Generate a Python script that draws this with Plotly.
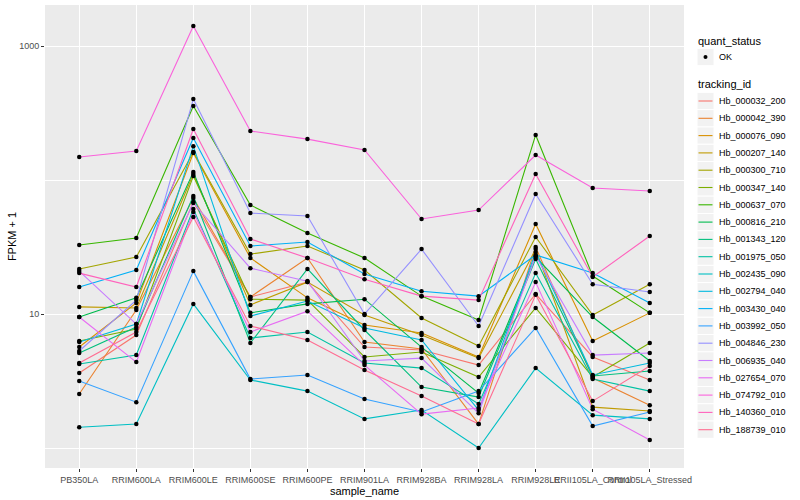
import plotly.graph_objects as go

samples = ["PB350LA", "RRIM600LA", "RRIM600LE", "RRIM600SE", "RRIM600PE", "RRIM901LA",
           "RRIM928BA", "RRIM928LA", "RRIM928LE", "RRII105LA_Control", "RRII105LA_Stressed"]

# FPKM + 1 per sample, one list per gene
hb_000032_200 = [3.63, 6.97, 68.5, 13.4, 17.3, 5.67, 5.39, 4.16, 14.1, 4.78, 3.22]
hb_000042_390 = [2.53, 10.7, 73.4, 13.4, 26.2, 6.18, 5.48, 1.51, 31.6, 3.33, 2.09]
hb_000076_090 = [5.67, 12.1, 159, 26.2, 13.2, 8.28, 7.21, 4.78, 47.0, 6.29, 10.2]
hb_000207_140 = [11.3, 11.1, 111, 11.7, 17.3, 9.83, 6.97, 4.69, 30.5, 2.02, 1.89]
hb_000300_710 = [21.7, 26.6, 162, 28.0, 32.2, 21.3, 9.34, 5.77, 37.6, 9.83, 16.7]
hb_000347_140 = [6.29, 7.73, 107, 12.9, 12.7, 4.78, 5.21, 3.39, 11.1, 3.39, 6.08]
hb_000637_070 = [32.7, 36.9, 357, 65.1, 40.2, 26.2, 13.6, 9.02, 217, 19.2, 10.2]
hb_000816_210 = [9.50, 13.2, 115, 10.2, 11.9, 12.9, 5.67, 2.57, 26.6, 9.50, 4.46]
hb_001343_120 = [5.12, 8.00, 76.0, 6.08, 21.7, 7.60, 2.85, 2.40, 25.7, 3.45, 3.76]
hb_001975_050 = [4.24, 4.94, 60.8, 6.62, 7.34, 4.31, 3.95, 2.13, 20.2, 3.27, 2.66]
hb_002435_090 = [1.43, 1.51, 11.9, 3.22, 2.66, 1.65, 1.92, 1.00, 3.95, 1.76, 1.65]
hb_002794_040 = [6.18, 8.42, 179, 9.66, 12.5, 7.87, 6.40, 1.92, 29.0, 3.51, 4.31]
hb_003430_040 = [15.9, 21.3, 206, 32.2, 34.5, 19.9, 14.8, 13.6, 27.6, 20.2, 12.1]
hb_003992_050 = [3.16, 2.20, 20.9, 3.27, 3.51, 2.32, 1.86, 2.66, 7.87, 1.46, 1.86]
hb_004846_230 = [5.30, 12.7, 402, 56.7, 53.9, 10.0, 30.5, 8.14, 78.6, 16.7, 14.6]
hb_006935_040 = [20.9, 8.42, 67.4, 22.0, 17.6, 4.46, 4.69, 1.82, 27.1, 4.94, 5.12]
hb_027654_070 = [9.50, 4.38, 57.7, 7.34, 10.5, 4.16, 1.79, 1.99, 17.3, 1.95, 1.15]
hb_074792_010 = [148.5, 164.5, 1410, 232, 202, 167.5, 51.2, 59.7, 153.6, 87.1, 82.8]
hb_140360_010 = [20.2, 15.9, 240, 36.3, 26.2, 18.2, 13.6, 12.7, 111, 18.9, 38.2]
hb_188739_010 = [4.31, 7.34, 53.0, 8.14, 6.40, 3.82, 2.44, 1.51, 13.9, 2.24, 4.09]

tracking_ids = ["Hb_000032_200", "Hb_000042_390", "Hb_000076_090", "Hb_000207_140",
                "Hb_000300_710", "Hb_000347_140", "Hb_000637_070", "Hb_000816_210",
                "Hb_001343_120", "Hb_001975_050", "Hb_002435_090", "Hb_002794_040",
                "Hb_003430_040", "Hb_003992_050", "Hb_004846_230", "Hb_006935_040",
                "Hb_027654_070", "Hb_074792_010", "Hb_140360_010", "Hb_188739_010"]
series_values = [hb_000032_200, hb_000042_390, hb_000076_090, hb_000207_140,
                 hb_000300_710, hb_000347_140, hb_000637_070, hb_000816_210,
                 hb_001343_120, hb_001975_050, hb_002435_090, hb_002794_040,
                 hb_003430_040, hb_003992_050, hb_004846_230, hb_006935_040,
                 hb_027654_070, hb_074792_010, hb_140360_010, hb_188739_010]
colors = ["#F8766D", "#EA8331", "#D89000", "#C09B00", "#A3A500", "#7CAE00", "#39B600",
          "#00BB4E", "#00BF7D", "#00C1A3", "#00BFC4", "#00BAE0", "#00B0F6", "#35A2FF",
          "#9590FF", "#C77CFF", "#E76BF3", "#FA62DB", "#FF62BC", "#FF6C91"]
quant_status = ["OK"]

y_ticks = [10, 1000]
y_minor = [1, 100]

FONT = "Liberation Sans, Arial, sans-serif"
W, H = 800, 500
ML, MR, MT, MB = 45, 116, 5, 32
PW, PH = W - ML - MR, H - MT - MB


def px_x(px):
    return (px - ML) / PW


def px_y(py):
    return (H - MB - py) / PH


fig = go.Figure()
for name, vals, col in zip(tracking_ids, series_values, colors):
    fig.add_trace(go.Scatter(
        x=samples, y=vals, mode="lines", name=name,
        line=dict(color=col, width=1.1), showlegend=False,
        hoverinfo="skip"))

all_x = [s for vals in series_values for s in samples]
all_y = [v for vals in series_values for v in vals]
fig.add_trace(go.Scatter(
    x=all_x, y=all_y, mode="markers", name="OK", showlegend=False,
    marker=dict(color="black", size=4.5)))

# ---- ggplot-style legends (built in paper coordinates) ----
shapes = []
annotations = []
LX_TEXT = 696
KEY_L, KEY_R = 697, 714
KEY_H = 17.3
LAB_X = 717


def key_box(cy):
    shapes.append(dict(type="rect", xref="paper", yref="paper",
                       x0=px_x(KEY_L), x1=px_x(KEY_R),
                       y0=px_y(cy + KEY_H / 2), y1=px_y(cy - KEY_H / 2),
                       fillcolor="#F2F2F2", line=dict(color="white", width=1), layer="below"))


def label(text, cx, cy, size=9):
    annotations.append(dict(text=text, xref="paper", yref="paper", x=px_x(cx), y=px_y(cy),
                            xanchor="left", yanchor="middle", showarrow=False,
                            font=dict(family=FONT, size=size, color="black")))


label("quant_status", LX_TEXT, 41, size=11)
for i, qs in enumerate(quant_status):
    cy = 57 + i * KEY_H
    key_box(cy)
    cx = (KEY_L + KEY_R) / 2
    shapes.append(dict(type="circle", xref="paper", yref="paper",
                       x0=px_x(cx - 2), x1=px_x(cx + 2), y0=px_y(cy + 2), y1=px_y(cy - 2),
                       fillcolor="black", line=dict(color="black", width=0)))
    label(qs, LAB_X, cy)

label("tracking_id", LX_TEXT, 84, size=11)
for i, (name, col) in enumerate(zip(tracking_ids, colors)):
    cy = 101 + i * KEY_H
    key_box(cy)
    shapes.append(dict(type="line", xref="paper", yref="paper",
                       x0=px_x(KEY_L + 1.5), x1=px_x(KEY_R - 1.5), y0=px_y(cy), y1=px_y(cy),
                       line=dict(color=col, width=1.1)))
    label(name, LAB_X, cy)

fig.update_layout(
    width=W, height=H,
    margin=dict(l=ML, r=MR, t=MT, b=MB, autoexpand=False),
    paper_bgcolor="white", plot_bgcolor="#EBEBEB",
    font=dict(family=FONT, size=9, color="#4D4D4D"),
    showlegend=False,
    shapes=shapes, annotations=annotations,
)

fig.update_xaxes(
    type="category", categoryorder="array", categoryarray=samples,
    range=[-0.6, len(samples) - 0.4],
    showgrid=True, gridcolor="white", gridwidth=1.1,
    ticks="outside", ticklen=3, tickcolor="#333333", tickwidth=1,
    tickangle=0, tickfont=dict(size=9, color="#4D4D4D"),
    zeroline=False, showline=False, automargin=False,
    title=dict(text="sample_name", font=dict(size=11, color="black"), standoff=0),
)
fig.update_yaxes(
    type="log", range=[-0.149, 3.306],
    tickvals=y_ticks, ticktext=[str(v) for v in y_ticks],
    showgrid=True, gridcolor="white", gridwidth=1.1,
    minor=dict(tickvals=y_minor, showgrid=True, gridcolor="white", gridwidth=0.5, ticks=""),
    ticks="outside", ticklen=3, tickcolor="#333333", tickwidth=1,
    tickfont=dict(size=9, color="#4D4D4D"),
    zeroline=False, showline=False, automargin=False,
    title=dict(text="FPKM + 1", font=dict(size=11, color="black"), standoff=0),
)

fig.write_html("out.html", config={"displayModeBar": False},
               post_script="document.body.style.margin='0px';")
